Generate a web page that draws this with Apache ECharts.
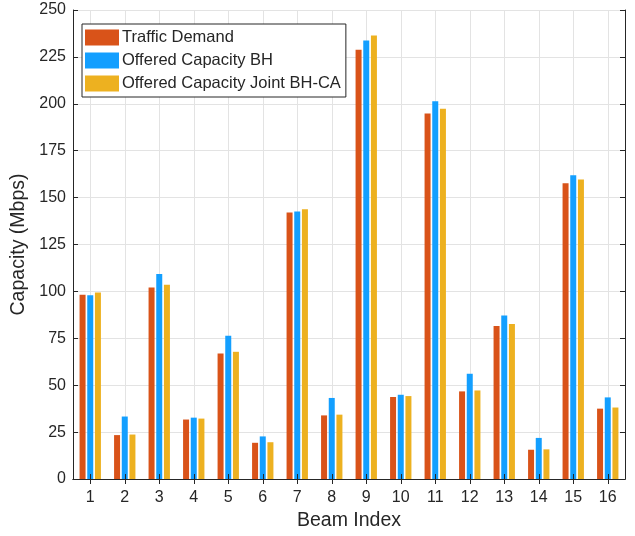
<!DOCTYPE html>
<html>
<head>
<meta charset="utf-8">
<script src="https://cdn.jsdelivr.net/npm/echarts@6/dist/echarts.min.js"></script>
<style>
html,body{margin:0;padding:0;background:#fff;}
#chart{width:635px;height:536px;}
</style>
</head>
<body>
<div id="chart"></div>
<script>
const categories = ['1','2','3','4','5','6','7','8','9','10','11','12','13','14','15','16'];
const trafficDemand = [98.2, 23.4, 102.1, 31.7, 66.9, 19.3, 142.1, 33.9, 228.8, 43.7, 194.8, 46.7, 81.6, 15.6, 157.6, 37.5];
const offeredBH = [98.0, 33.3, 109.3, 32.7, 76.3, 22.7, 142.6, 43.2, 233.7, 44.9, 201.3, 56.1, 87.2, 21.9, 161.9, 43.5];
const offeredJoint = [99.4, 23.7, 103.5, 32.2, 67.8, 19.6, 143.8, 34.3, 236.4, 44.2, 197.3, 47.2, 82.6, 15.8, 159.6, 38.1];
const seriesNames = ['Traffic Demand', 'Offered Capacity BH', 'Offered Capacity Joint BH-CA'];
const yMin = 0, yMax = 250, yStep = 25;

const FONT = '"Liberation Sans", Arial, sans-serif';
const AX = '#262626';
const GRID = '#e3e3e3';
const colors = ['#D95319', '#139FFF', '#EDB120'];

const chart = echarts.init(document.getElementById('chart'), null, {renderer: 'canvas'});
const mk = (name, data, i) => ({
  name, type: 'bar', data, xAxisIndex: 0, yAxisIndex: 0,
  barWidth: 6, barGap: '28%', z: 2,
  itemStyle: {color: colors[i]}
});
chart.setOption({
  animation: false,
  backgroundColor: '#fff',
  color: colors,
  grid: {left: 73, right: 10, top: 10, bottom: 55, containLabel: false},
  legend: {
    orient: 'vertical', left: 82, top: 24,
    data: seriesNames,
    itemWidth: 34, itemHeight: 16, itemGap: 6,
    padding: [5, 5, 5, 3],
    backgroundColor: '#fff', borderColor: AX, borderWidth: 1,
    icon: 'rect',
    textStyle: {fontFamily: FONT, fontSize: 16.5, color: AX, padding: [0, 0, 0, -2]}
  },
  xAxis: [
    {
      type: 'category', data: categories, position: 'bottom', z: 10,
      name: 'Beam Index', nameLocation: 'middle', nameGap: 32,
      nameTextStyle: {fontFamily: FONT, fontSize: 19.5, color: AX},
      axisLine: {lineStyle: {color: AX, width: 1}},
      axisTick: {show: true, inside: true, length: 5, alignWithLabel: true, lineStyle: {color: AX}},
      axisLabel: {fontFamily: FONT, fontSize: 16, color: AX, margin: 11},
      splitLine: {show: false}
    },
    {
      type: 'category', data: categories, position: 'top', z: 0,
      axisLine: {show: true, lineStyle: {color: AX, width: 1}},
      axisTick: {show: true, inside: true, length: 5, alignWithLabel: true, lineStyle: {color: AX}},
      axisLabel: {show: false},
      splitLine: {show: true, alignWithLabel: true, lineStyle: {color: GRID, width: 1}}
    }
  ],
  yAxis: [
    {
      type: 'value', min: yMin, max: yMax, interval: yStep, position: 'left', z: 10,
      name: 'Capacity (Mbps)', nameLocation: 'middle', nameGap: 41,
      nameTextStyle: {fontFamily: FONT, fontSize: 19.5, color: AX},
      axisLine: {show: true, lineStyle: {color: AX, width: 1}},
      axisTick: {show: true, inside: true, length: 5, lineStyle: {color: AX}},
      axisLabel: {fontFamily: FONT, fontSize: 16, color: AX, margin: 7},
      splitLine: {show: false}
    },
    {
      type: 'value', min: yMin, max: yMax, interval: yStep, position: 'right', z: 0,
      axisLine: {show: true, lineStyle: {color: AX, width: 1}},
      axisTick: {show: true, inside: true, length: 5, lineStyle: {color: AX}},
      axisLabel: {show: false},
      splitLine: {show: true, lineStyle: {color: GRID, width: 1}}
    }
  ],
  series: [
    mk(seriesNames[0], trafficDemand, 0),
    mk(seriesNames[1], offeredBH, 1),
    mk(seriesNames[2], offeredJoint, 2)
  ]
});
</script>
</body>
</html>
